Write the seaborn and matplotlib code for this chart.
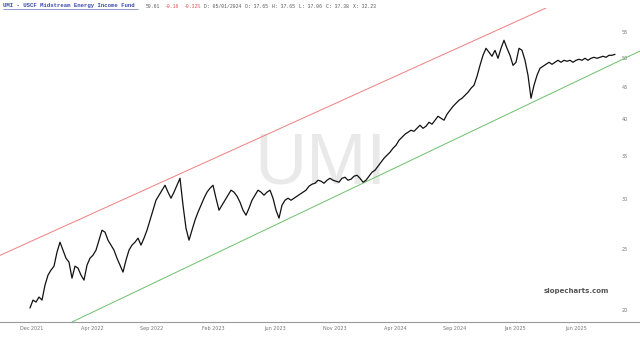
import matplotlib
matplotlib.use("Agg")
import matplotlib.pyplot as plt
import seaborn as sns
import pandas as pd
from matplotlib.ticker import NullLocator, NullFormatter, FixedLocator, FixedFormatter

# ---- data (one sample every few sessions) ----
price = [
    20.15, 20.74, 20.59, 20.97, 20.74, 21.90, 22.71, 23.13, 23.46, 24.69,
    25.60, 24.87, 24.15, 23.81, 22.46, 23.46, 23.30, 22.71, 22.30, 23.55,
    24.15, 24.42, 24.87, 25.79, 26.74, 26.55, 25.79, 25.33, 24.87, 24.15,
    23.55, 22.96, 23.98, 24.87, 25.33, 25.60, 25.98, 25.33, 25.98, 26.74,
    27.74, 28.76, 29.82, 30.37, 30.93, 31.49, 30.71, 30.04, 30.71, 31.49,
    32.30, 29.29, 26.93, 25.79, 26.74, 27.74, 28.55, 29.29, 30.04, 30.71,
    31.15, 31.49, 30.04, 28.76, 29.29, 29.82, 30.37, 30.93, 30.71, 30.26,
    29.61, 28.76, 28.24, 28.97, 29.82, 30.37, 30.93, 30.71, 30.37, 30.71,
    30.93, 30.04, 28.76, 27.94, 29.29, 29.82, 30.04, 29.82, 30.04, 30.26,
    30.48, 30.71, 30.93, 31.38, 31.61, 31.72, 32.07, 31.96, 31.72, 32.07,
    32.30, 32.07, 31.96, 31.84, 32.30, 32.42, 32.07, 32.19, 32.54, 32.66,
    32.30, 31.84, 32.07, 32.54, 33.02, 33.26, 33.75, 34.24, 34.74, 35.12,
    35.51, 36.03, 36.42, 37.09, 37.50, 37.91, 38.18, 38.46, 38.32, 38.74,
    39.17, 38.74, 39.03, 39.60, 39.32, 39.89, 40.47, 40.18, 39.89, 40.77,
    41.36, 41.96, 42.43, 42.90, 43.21, 43.68, 44.16, 44.81, 45.30, 46.80,
    48.71, 50.52, 51.82, 51.07, 50.34, 51.44, 49.97, 51.82, 53.35, 51.82,
    50.52, 48.71, 49.25, 51.82, 51.44, 49.61, 46.97, 43.21, 45.30, 46.97,
    48.19, 48.54, 48.89, 49.25, 48.89, 49.25, 49.61, 49.25, 49.61, 49.43,
    49.61, 49.25, 49.61, 49.79, 49.61, 49.97, 49.61, 49.97, 50.15, 49.97,
    50.15, 50.34, 50.15, 50.52, 50.52, 50.70,
]
session = list(range(len(price)))

y_tick_values = [20, 25, 30, 35, 40, 45, 50, 55]
x_tick_labels = ["Dec 2021", "Apr 2022", "Sep 2022", "Feb 2023", "Jun 2023",
                 "Nov 2023", "Apr 2024", "Sep 2024", "Jan 2025", "Jun 2025"]
x_tick_sessions = [0.7, 20.7, 40.7, 61, 81.7, 101.7, 121.7, 141.7, 161.7, 182]

upper_channel_session = [-10, 172]
upper_channel_price = [24.4, 60.0]
lower_channel_session = [14, 203.3]
lower_channel_price = [19.15, 51.3]

header_title = "UMI - USCF Midstream Energy Income Fund"
header_parts = [("50.61", "#555555"), ("-0.16", "#e05050"), ("-0.32%", "#e05050"),
                ("D: 05/01/2024", "#555555"), ("O: 37.65", "#555555"),
                ("H: 37.65", "#555555"), ("L: 37.06", "#555555"),
                ("C: 37.38", "#555555"), ("X: 32.23", "#555555")]

df = pd.DataFrame({"session": session, "price": price})

# ---- figure ----
sns.set_style("white")
plt.rcParams["font.family"] = ["DejaVu Sans"]
W, H = 640, 337
fig = plt.figure(figsize=(W / 100, H / 100), dpi=100)
ax_top, ax_bot = 8, 322
ax = fig.add_axes([0, (H - ax_bot) / H, 1, (ax_bot - ax_top) / H])

ax.text(0.5, 0.5, "UMI", transform=ax.transAxes, ha="center", va="center",
        fontsize=52, color="#e9e9e9", family="Liberation Sans", zorder=0)

sns.lineplot(data=df, x="session", y="price", ax=ax, color="#111111",
             linewidth=0.9, zorder=3)
ax.plot(upper_channel_session, upper_channel_price, color="#ef7f7f", lw=0.7, zorder=2)
ax.plot(lower_channel_session, lower_channel_price, color="#6cbf6c", lw=0.7, zorder=2)

ax.set_yscale("log")
ax.set_ylim(19.15, 60)
ax.set_xlim(-10, 203.33)
ax.yaxis.set_major_locator(FixedLocator(y_tick_values))
ax.yaxis.set_major_formatter(FixedFormatter([str(v) for v in y_tick_values]))
ax.yaxis.set_minor_locator(NullLocator())
ax.yaxis.set_minor_formatter(NullFormatter())
ax.yaxis.tick_right()
ax.tick_params(axis="y", length=0, pad=-13, labelsize=3.5, labelcolor="#777777")
ax.set_xticks(x_tick_sessions)
ax.set_xticklabels(x_tick_labels)
ax.tick_params(axis="x", length=0, pad=3, labelsize=3.5, labelcolor="#777777")
ax.set_xlabel("")
ax.set_ylabel("")
for s in ["top", "left", "right"]:
    ax.spines[s].set_visible(False)
ax.spines["bottom"].set_color("#999999")
ax.spines["bottom"].set_linewidth(0.8)

ax.text(0.9, 0.1, "slopecharts.com", transform=ax.transAxes, ha="center",
        va="center", fontsize=5, fontweight="bold", color="#555555", zorder=4)

# header line
def fx(x):
    return x / W

def fy(y):
    return 1 - y / H

fig.text(fx(3), fy(6), header_title, family="Liberation Mono",
         fontsize=4.1, color="#3b4aa8", va="center", ha="left", fontweight="bold")
fig.add_artist(plt.Line2D([fx(3), fx(138)], [fy(9), fy(9)], color="#3b4aa8", lw=0.4))
fs = 3.4
cw = 0.6 * fs * 100 / 72
x = 146
for t, c in header_parts:
    fig.text(fx(x), fy(6), t, family="Liberation Mono", fontsize=fs, color=c,
             va="center", ha="left")
    x += (len(t) + 1.5) * cw

fig.savefig("out.png", dpi=100)
